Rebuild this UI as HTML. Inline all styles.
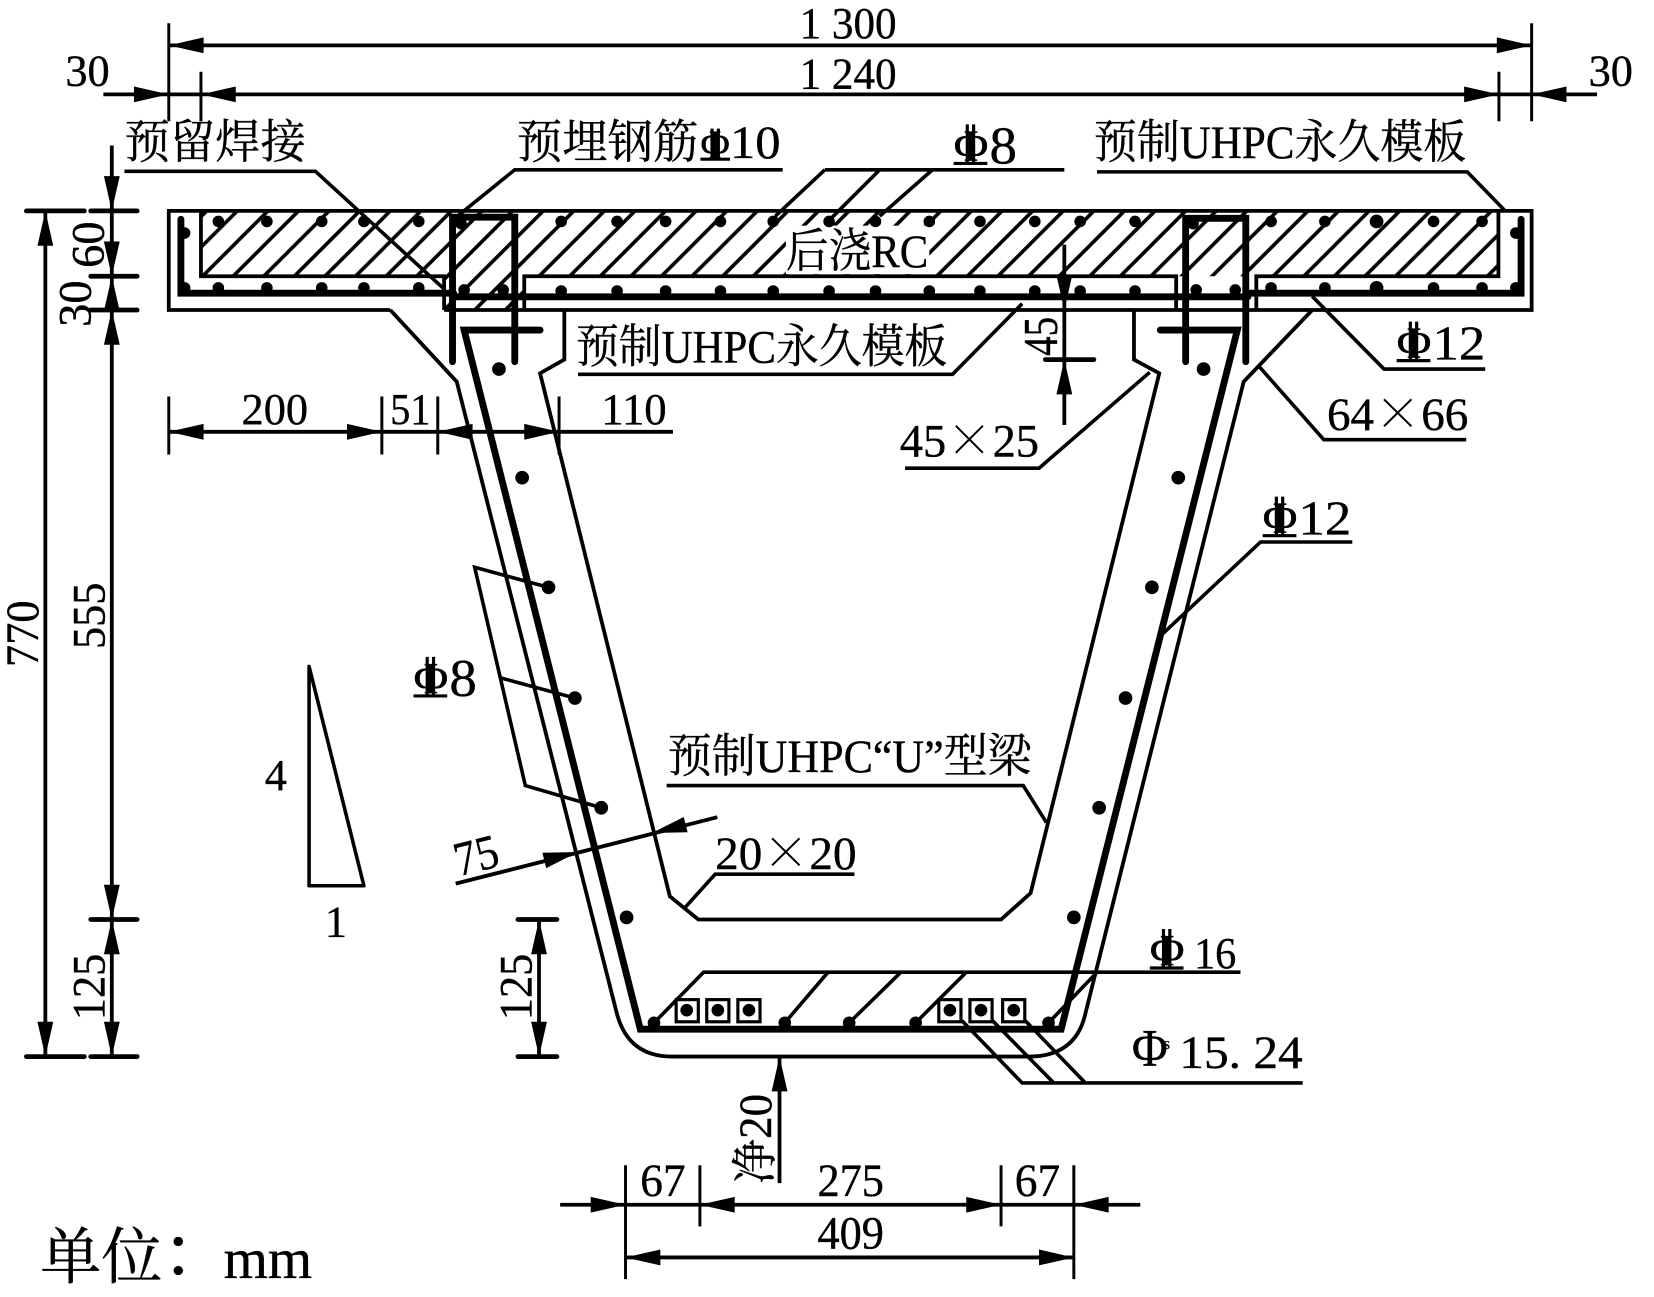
<!DOCTYPE html>
<html><head><meta charset="utf-8"><style>
html,body{margin:0;padding:0;background:#fff}
svg{display:block}
text{font-family:"Liberation Serif","Noto Serif CJK SC",serif;fill:#000;stroke:#000;stroke-width:.35}
.x{font-family:"Noto Serif CJK SC",serif;stroke-width:0}
</style></head><body>
<svg width="1654" height="1297" viewBox="0 0 1568 1230" preserveAspectRatio="none" xmlns="http://www.w3.org/2000/svg">
<defs>
<polygon id="a" points="0,0 -33,-7.5 -33,7.5" fill="#000"/>
<pattern id="h" patternUnits="userSpaceOnUse" width="29" height="29" patternTransform="translate(-10,0)">
<path d="M-5,34 L34,-5 M-34,34 L34,-34 M-5,63 L63,-5" stroke="#000" stroke-width="3.400" fill="none"/>
</pattern>
<clipPath id="hc"><path d="M191,201H421V262H191ZM421,201H497V294H421ZM497,201H1115V262H497ZM1115,201H1191V262H1115ZM1191,201H1420V262H1191Z"/></clipPath>
</defs>
<rect width="1568" height="1230" fill="#fff"/>
<rect x="185" y="201" width="1240" height="95" fill="url(#h)" clip-path="url(#hc)"/>
<rect x="745" y="214" width="136" height="46" fill="#fff"/>
<g fill="none" stroke="#000" stroke-width="3.600" stroke-linejoin="miter">
<path d="M370,294 H160 V200 H1452 V294 H421"/>
<path d="M190.500,200 V262 H421 V294"/>
<path d="M497,294 V262 H1115 V294"/>
<path d="M1191,294 V262 H1420.500 V200"/>
<path d="M370,294 L433,362 L585,962 Q596,1002 637,1002 H975 Q1020,1002 1029,961 L1179,362 L1244,294"/>
<path d="M535,295 V341 L512,354 L635,850 L662,872 H949 L977,847 L1099,354 L1075,341 V295"/>
</g>
<g fill="none" stroke="#000" stroke-width="6.500" stroke-linecap="round">
<path d="M171.500,208 V278 H430"/>
<path d="M1442,208 V278 H1185"/>
<path d="M430,281.500 H1183"/>
<path d="M429,343 V206 H488 V343"/>
<path d="M1124,343 V207 H1181 V343"/>
<path d="M512,313 H440 L607,976 H1006 L1173,313 H1100" stroke-linejoin="miter"/>
</g>
<g fill="#000">
<circle cx="207" cy="210" r="5.500"/><circle cx="253" cy="210" r="5.500"/><circle cx="305" cy="210" r="5.500"/><circle cx="345" cy="210" r="5.500"/><circle cx="397" cy="210" r="5.500"/><circle cx="437" cy="212" r="5.500"/><circle cx="532" cy="210" r="5.500"/><circle cx="585" cy="210" r="5.500"/><circle cx="631" cy="210" r="5.500"/><circle cx="683" cy="210" r="5.500"/><circle cx="733" cy="210" r="5.500"/><circle cx="786" cy="210" r="5.500"/><circle cx="830" cy="210" r="5.500"/><circle cx="881" cy="210" r="5.500"/><circle cx="929" cy="210" r="5.500"/><circle cx="981" cy="210" r="5.500"/><circle cx="1024" cy="210" r="5.500"/><circle cx="1076" cy="210" r="5.500"/><circle cx="1131" cy="212" r="5.500"/><circle cx="1205" cy="210" r="5.500"/><circle cx="1256" cy="210" r="5.500"/><circle cx="1305" cy="210" r="6.500"/><circle cx="1359" cy="210" r="5.500"/><circle cx="1405" cy="210" r="5.500"/>
<circle cx="175" cy="221" r="5.500"/><circle cx="1437" cy="221" r="5.500"/>
<circle cx="175" cy="273" r="5.500"/><circle cx="207" cy="273" r="5.500"/><circle cx="253" cy="273" r="5.500"/><circle cx="305" cy="273" r="5.500"/><circle cx="345" cy="273" r="5.500"/><circle cx="397" cy="273" r="5.500"/><circle cx="440" cy="275" r="5.500"/><circle cx="477" cy="275" r="5.500"/><circle cx="532" cy="276" r="5.500"/><circle cx="585" cy="276" r="5.500"/><circle cx="631" cy="276" r="5.500"/><circle cx="683" cy="276" r="5.500"/><circle cx="733" cy="276" r="5.500"/><circle cx="786" cy="276" r="5.500"/><circle cx="830" cy="276" r="5.500"/><circle cx="881" cy="276" r="5.500"/><circle cx="929" cy="276" r="5.500"/><circle cx="981" cy="276" r="5.500"/><circle cx="1024" cy="276" r="5.500"/><circle cx="1076" cy="276" r="5.500"/><circle cx="1134" cy="275" r="5.500"/><circle cx="1171" cy="275" r="5.500"/><circle cx="1205" cy="273" r="5.500"/><circle cx="1256" cy="273" r="5.500"/><circle cx="1305" cy="273" r="6.500"/><circle cx="1359" cy="273" r="5.500"/><circle cx="1405" cy="273" r="5.500"/><circle cx="1437" cy="273" r="5.500"/>
<circle cx="473" cy="350" r="6.500"/><circle cx="495" cy="453" r="6.500"/><circle cx="520" cy="557" r="6.500"/><circle cx="545" cy="662" r="6.500"/><circle cx="570" cy="766" r="6.500"/><circle cx="594" cy="870" r="6.500"/>
<circle cx="1141" cy="350" r="6.500"/><circle cx="1117" cy="453" r="6.500"/><circle cx="1092" cy="557" r="6.500"/><circle cx="1067" cy="662" r="6.500"/><circle cx="1042" cy="766" r="6.500"/><circle cx="1018" cy="870" r="6.500"/>
<circle cx="620" cy="970" r="6"/><circle cx="744" cy="970" r="6"/><circle cx="805" cy="970" r="6"/><circle cx="868" cy="970" r="6"/><circle cx="994" cy="970" r="6"/>
<circle cx="651" cy="958" r="6"/><circle cx="680.500" cy="958" r="6"/><circle cx="710" cy="958" r="6"/><circle cx="900.500" cy="958" r="6"/><circle cx="930" cy="958" r="6"/><circle cx="961" cy="958" r="6"/>
</g>
<g fill="none" stroke="#000" stroke-width="3">
<rect x="641" y="948" width="21" height="21"/><rect x="670" y="948" width="21" height="21"/><rect x="699.500" y="948" width="21" height="21"/><rect x="890" y="948" width="21" height="21"/><rect x="919.500" y="948" width="21" height="21"/><rect x="950.500" y="948" width="21" height="21"/>
</g>
<g fill="none" stroke="#000" stroke-width="3.400">
<path d="M118,162.500 H299 L422,275"/>
<path d="M742,161 H488 L430,208"/>
<path d="M782,161 H1009 M782,161 L735,205 M834,161 L785,210 M884,161 L834,205"/>
<path d="M1040,163 H1391 L1426,199"/>
<path d="M548,355 H903 L969,288"/>
<path d="M1408,350 H1312 L1244,281"/>
<path d="M1390,417 H1255 L1194,348"/>
<path d="M858,444 H985 L1090,353"/>
<path d="M1282,514 H1195 L1098,605"/>
<path d="M520,557 L450,538 L498,745 L570,766 M475,643 L545,662"/>
<path d="M632,745 H970 L992,780"/>
<path d="M810,829 H678 L650,860"/>
<path d="M1176,922 H667 L620,970 M785,922 L744,970 M854,922 L805,970 M916,922 L868,970 M1040,922 L994,970"/>
<path d="M912,968 L969,1027 H1235 M941,968 L999,1027 M972,968 L1029,1027"/>
<path d="M293,632 V840 H345 Z" stroke-linejoin="round"/>
</g>
<g fill="none" stroke="#000" stroke-width="3.600">
<path d="M160,43 H1452 M98,89.500 H1514"/>
<path d="M160,409.500 H638"/>
<path d="M43,200 V1002 M106,138 V1002"/>
<path d="M511,872 V1002"/>
<path d="M1009,232 V403"/>
<path d="M432,838 L680,775"/>
<path d="M739,1002 V1122"/>
<path d="M531,1142.500 H1081 M593,1192.500 H1018"/>
</g>
<g fill="none" stroke="#000" stroke-width="2.800">
<path d="M160,22 V115 M1452,22 V115 M190.500,68 V115 M1421,68 V115"/>
<path d="M160,376 V431 M362,376 V431 M415,376 V431 M530,376 V431"/>
<path d="M593,1105 V1213 M663.500,1105 V1163 M949,1105 V1163 M1018,1105 V1213"/>
</g>
<g fill="none" stroke="#000" stroke-width="4.500" stroke-linecap="round">
<path d="M25,200 H80 M86,200 H130 M86,262 H130 M86,294 H130 M86,872 H130 M25,1002 H80 M86,1002 H130"/>
<path d="M491,872 H528 M491,1002 H528 M991,341 H1037"/>
</g>
<use href="#a" transform="translate(160,43) rotate(180)"/>
<use href="#a" transform="translate(1452,43)"/>
<use href="#a" transform="translate(160,89.500)"/>
<use href="#a" transform="translate(190.500,89.500) rotate(180)"/>
<use href="#a" transform="translate(1421,89.500)"/>
<use href="#a" transform="translate(1452,89.500) rotate(180)"/>
<use href="#a" transform="translate(160,409.500) rotate(180)"/>
<use href="#a" transform="translate(362,409.500)"/>
<use href="#a" transform="translate(415,409.500) rotate(180)"/>
<use href="#a" transform="translate(530,409.500)"/>
<use href="#a" transform="translate(43,200) rotate(-90)"/>
<use href="#a" transform="translate(43,1002) rotate(90)"/>
<use href="#a" transform="translate(106,200) rotate(90)"/>
<use href="#a" transform="translate(106,262) rotate(90)"/>
<use href="#a" transform="translate(106,262) rotate(-90)"/>
<use href="#a" transform="translate(106,294) rotate(-90)"/>
<use href="#a" transform="translate(106,872) rotate(90)"/>
<use href="#a" transform="translate(106,872) rotate(-90)"/>
<use href="#a" transform="translate(106,1002) rotate(90)"/>
<use href="#a" transform="translate(511,872) rotate(-90)"/>
<use href="#a" transform="translate(511,1002) rotate(90)"/>
<use href="#a" transform="translate(1009,294) rotate(90)"/>
<use href="#a" transform="translate(1009,341) rotate(-90)"/>
<use href="#a" transform="translate(548,808) rotate(-14)"/>
<use href="#a" transform="translate(618,790) rotate(166)"/>
<use href="#a" transform="translate(739,1002) rotate(-90)"/>
<use href="#a" transform="translate(593,1142.500)"/>
<use href="#a" transform="translate(663.500,1142.500) rotate(180)"/>
<use href="#a" transform="translate(949,1142.500)"/>
<use href="#a" transform="translate(1018,1142.500) rotate(180)"/>
<use href="#a" transform="translate(593,1192.500) rotate(180)"/>
<use href="#a" transform="translate(1018,1192.500)"/>
<!-- rebar symbol strokes -->
<g fill="none" stroke="#000" stroke-width="3">
<path d="M904,155 H936 M917,118 V155 M923,118 V155"/>
<path d="M664,151 H692 M675,122 V151 M681,122 V151"/>
<path d="M1324,342 H1356 M1337,305 V342 M1343,305 V342"/>
<path d="M1197,508 H1229 M1210,471 V508 M1216,471 V508"/>
<path d="M392,660 H424 M405,623 V660 M411,623 V660"/>
<path d="M1090,918 H1122 M1103,881 V918 M1109,881 V918"/>
</g>
<g font-size="42">
<text x="758" y="36" textLength="92" lengthAdjust="spacingAndGlyphs">1 300</text>
<text x="758" y="84" textLength="92" lengthAdjust="spacingAndGlyphs">1 240</text>
<text x="62" y="81" textLength="42" lengthAdjust="spacingAndGlyphs">30</text>
<text x="1506" y="81" textLength="42" lengthAdjust="spacingAndGlyphs">30</text>
<text x="229" y="402" textLength="63" lengthAdjust="spacingAndGlyphs">200</text>
<text x="370" y="402" textLength="38" lengthAdjust="spacingAndGlyphs">51</text>
<text x="570" y="402" textLength="62" lengthAdjust="spacingAndGlyphs">110</text>
<text x="118" y="150" font-size="44" textLength="172" lengthAdjust="spacingAndGlyphs">预留焊接</text>
<text x="490" y="150" font-size="44" textLength="172" lengthAdjust="spacingAndGlyphs">预埋钢筋</text>
<text x="664" y="150" font-size="38" textLength="28" lengthAdjust="spacingAndGlyphs">Φ</text>
<text x="692" y="150" font-size="44" textLength="48" lengthAdjust="spacingAndGlyphs">10</text>
<text x="904" y="152" font-size="42" textLength="33" lengthAdjust="spacingAndGlyphs">Φ</text>
<text x="938" y="155" font-size="50" textLength="26" lengthAdjust="spacingAndGlyphs">8</text>
<text x="1037" y="150" font-size="44" textLength="353" lengthAdjust="spacingAndGlyphs">预制UHPC永久模板</text>
<text x="546" y="344" font-size="44" textLength="352" lengthAdjust="spacingAndGlyphs">预制UHPC永久模板</text>
<text x="745" y="253" font-size="44" textLength="135" lengthAdjust="spacingAndGlyphs">后浇RC</text>
<text x="1324" y="339" textLength="33" lengthAdjust="spacingAndGlyphs">Φ</text>
<text x="1358" y="341" font-size="46" textLength="50" lengthAdjust="spacingAndGlyphs">12</text>
<text x="1258" y="408" font-size="44" textLength="134" lengthAdjust="spacingAndGlyphs">64<tspan class="x">×</tspan>66</text>
<text x="853" y="433" font-size="44" textLength="132" lengthAdjust="spacingAndGlyphs">45<tspan class="x">×</tspan>25</text>
<text x="1197" y="505" textLength="33" lengthAdjust="spacingAndGlyphs">Φ</text>
<text x="1231" y="507" font-size="46" textLength="50" lengthAdjust="spacingAndGlyphs">12</text>
<text x="392" y="657" textLength="33" lengthAdjust="spacingAndGlyphs">Φ</text>
<text x="426" y="660" font-size="50" textLength="26" lengthAdjust="spacingAndGlyphs">8</text>
<text x="633" y="732" font-size="44" textLength="345" lengthAdjust="spacingAndGlyphs">预制UHPC“U”型梁</text>
<text x="678" y="824" font-size="44" textLength="134" lengthAdjust="spacingAndGlyphs">20<tspan class="x">×</tspan>20</text>
<text x="251" y="749">4</text>
<text x="308" y="888">1</text>
<text x="1090" y="915" textLength="33" lengthAdjust="spacingAndGlyphs">Φ</text>
<text x="1132" y="918" textLength="40" lengthAdjust="spacingAndGlyphs">16</text>
<text x="1073" y="1011" font-size="50" textLength="34" lengthAdjust="spacingAndGlyphs">Φ</text>
<text x="1103" y="995" font-size="16">s</text>
<text x="1118" y="1013" font-size="44" textLength="117" lengthAdjust="spacingAndGlyphs">15. 24</text>
<text x="607" y="1134" font-size="44" textLength="43" lengthAdjust="spacingAndGlyphs">67</text>
<text x="775" y="1134" font-size="44" textLength="63" lengthAdjust="spacingAndGlyphs">275</text>
<text x="962" y="1134" font-size="44" textLength="43" lengthAdjust="spacingAndGlyphs">67</text>
<text x="775" y="1184" font-size="44" textLength="63" lengthAdjust="spacingAndGlyphs">409</text>
<text x="38" y="1212" font-size="58" textLength="116" lengthAdjust="spacingAndGlyphs">单位</text>
<text x="141" y="1212" font-size="56" style="font-family:'Noto Sans CJK TC',sans-serif">：</text>
<text x="212" y="1212" font-size="54" textLength="84" lengthAdjust="spacingAndGlyphs">mm</text>
<g text-anchor="middle">
<text transform="translate(36,601) rotate(-90)" font-size="44" textLength="63" lengthAdjust="spacingAndGlyphs">770</text>
<text transform="translate(98,232) rotate(-90)" font-size="44">60</text>
<text transform="translate(86,288) rotate(-90)" font-size="44">30</text>
<text transform="translate(99,584) rotate(-90)" font-size="44" textLength="63" lengthAdjust="spacingAndGlyphs">555</text>
<text transform="translate(99,936) rotate(-90)" font-size="44" textLength="63" lengthAdjust="spacingAndGlyphs">125</text>
<text transform="translate(504,936) rotate(-90)" font-size="44" textLength="63" lengthAdjust="spacingAndGlyphs">125</text>
<text transform="translate(1002,319) rotate(-90)" font-size="46" textLength="37" lengthAdjust="spacingAndGlyphs">45</text>
<text transform="translate(455,826) rotate(-14)" font-size="46" textLength="42" lengthAdjust="spacingAndGlyphs">75</text>
<text transform="translate(731,1080) rotate(-90)" font-size="44" textLength="85" lengthAdjust="spacingAndGlyphs">净20</text>
</g>
</g>
</svg>
</body></html>
